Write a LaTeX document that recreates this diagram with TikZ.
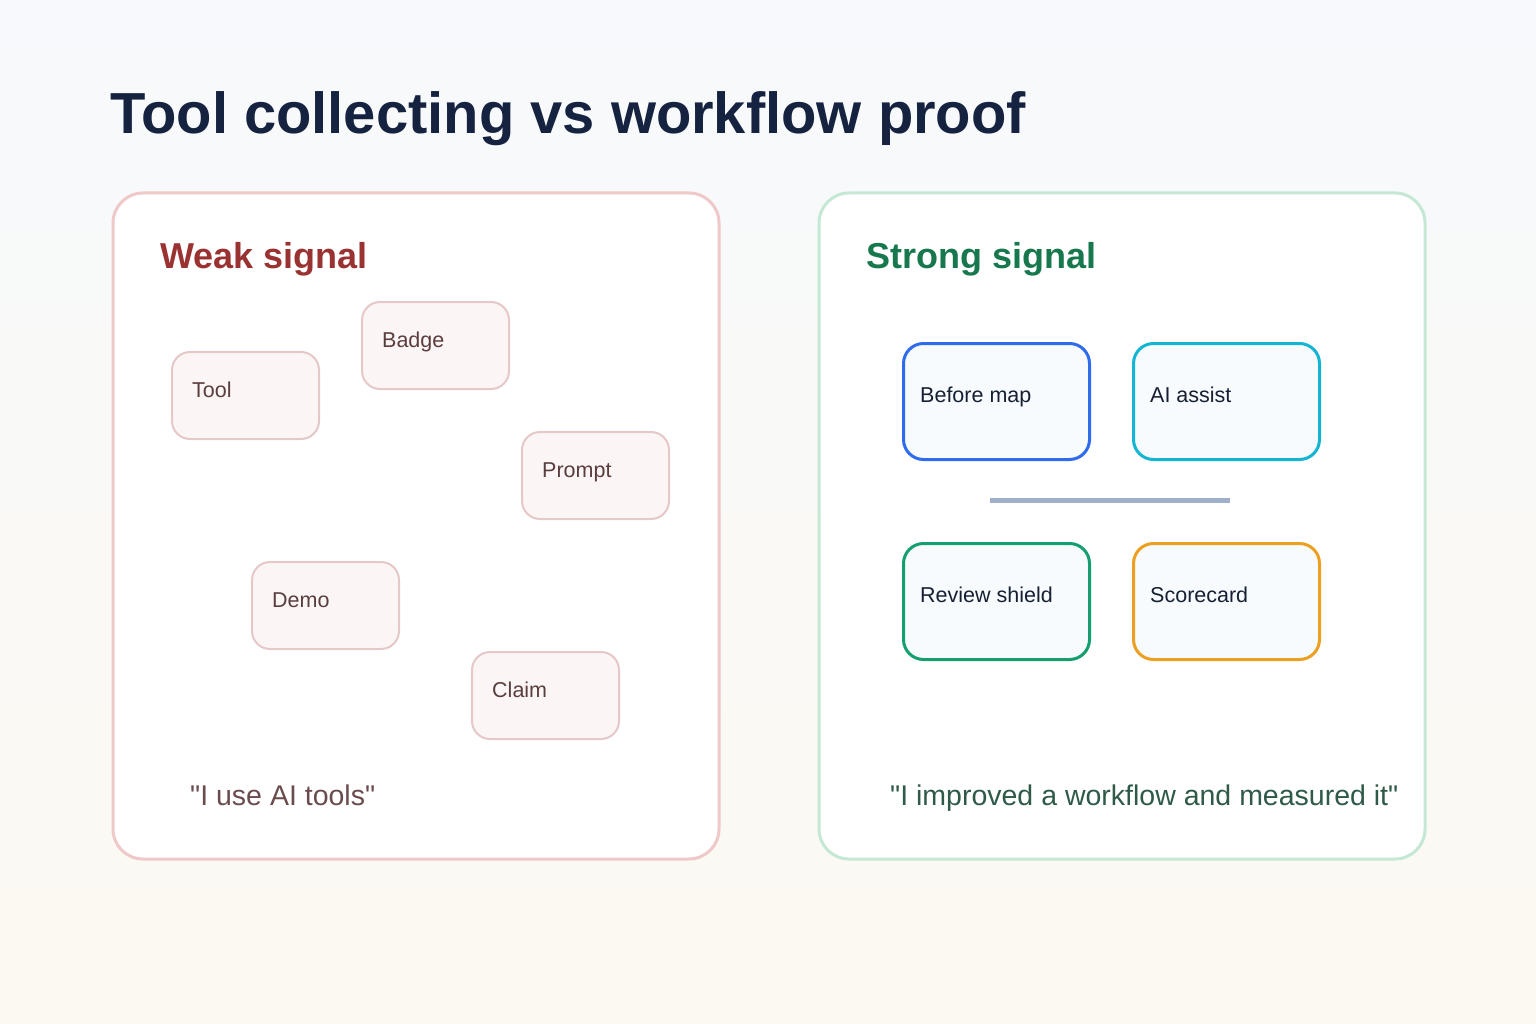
\documentclass[tikz,border=0pt]{standalone}
\usepackage{fontspec}
\setmainfont{Liberation Sans}[Ligatures=TeXOff]
\usetikzlibrary{positioning,calc}
\definecolor{bgtop}{HTML}{F7F9FC}
\definecolor{bgbot}{HTML}{FCF9F1}
\definecolor{titlec}{HTML}{152340}
\definecolor{weakc}{HTML}{9B3232}
\definecolor{strongc}{HTML}{17784E}
\definecolor{weakpanel}{HTML}{EFC8C8}
\definecolor{strongpanel}{HTML}{C4E8D4}
\definecolor{chipfill}{HTML}{FCF5F5}
\definecolor{chipdraw}{HTML}{E6C8C9}
\definecolor{chiptext}{HTML}{5A3E3E}
\definecolor{cardfill}{HTML}{F7FBFD}
\definecolor{cardtext}{HTML}{172033}
\definecolor{cblue}{HTML}{2F6BED}
\definecolor{ccyan}{HTML}{14B5D2}
\definecolor{cgreen}{HTML}{169F6E}
\definecolor{corange}{HTML}{EBA022}
\definecolor{linec}{HTML}{A0B0CC}
\definecolor{quoteweak}{HTML}{6B4C4E}
\definecolor{quotestrong}{HTML}{2F5A48}
\tikzset{
  panel/.style={draw, line width=3pt, fill=white, rounded corners=30pt, minimum width=606pt, minimum height=666pt, anchor=north west, inner sep=0pt},
  chip/.style={draw=chipdraw, line width=2pt, fill=chipfill, rounded corners=18pt, minimum width=147pt, minimum height=87pt, anchor=north west, inner sep=0pt},
  chiplabel/.style={anchor=base west, inner sep=0pt, text=chiptext, font=\fontsize{21.5}{24}\selectfont},
  card/.style={draw, line width=3pt, fill=cardfill, rounded corners=20pt, minimum width=186pt, minimum height=116pt, anchor=north west, inner sep=0pt},
  cardlabel/.style={anchor=base west, inner sep=0pt, text=cardtext, font=\fontsize{21.5}{24}\selectfont},
  heading/.style={anchor=base west, inner sep=0pt, font=\bfseries\fontsize{36}{40}\selectfont},
  quote/.style={anchor=base west, inner sep=0pt, font=\fontsize{28.5}{32}\selectfont},
}
\begin{document}
\begin{tikzpicture}[x=1pt,y=-1pt]
\shade[top color=bgtop, bottom color=bgbot] (0,0) rectangle (1536,1024);
\useasboundingbox (0,0) rectangle (1536,1024);
\node[anchor=base west, inner sep=0pt, text=titlec, font=\bfseries\fontsize{57.9}{62}\selectfont] (title) at (110,133.5) {Tool collecting vs workflow proof};
% panels
\node[panel, draw=weakpanel] (weak) at (111.5,191.5) {};
\node[panel, draw=strongpanel] (strong) at (817.5,191.5) {};
\node[heading, text=weakc] (weakh) at (160,269) {Weak signal};
\node[heading, text=strongc] (strongh) at (866,269) {Strong signal};
% weak chips
\node[chip] (tool) at (171,351) {};
\node[chiplabel] (toolt) at ($(tool.north west)+(21,46.5)$) {Tool};
\node[chip] (badge) at (361,301) {};
\node[chiplabel] (badget) at ($(badge.north west)+(21,46.5)$) {Badge};
\node[chip] (prompt) at (521,431) {};
\node[chiplabel] (promptt) at ($(prompt.north west)+(21,46.5)$) {Prompt};
\node[chip] (demo) at (251,561) {};
\node[chiplabel] (demot) at ($(demo.north west)+(21,46.5)$) {Demo};
\node[chip] (claim) at (471,651) {};
\node[chiplabel] (claimt) at ($(claim.north west)+(21,46.5)$) {Claim};
% strong cards
\node[card, draw=cblue] (before) at (902,342) {};
\node[cardlabel] (beforet) at ($(before.north west)+(18,60)$) {Before map};
\node[card, draw=ccyan] (assist) at (1132,342) {};
\node[cardlabel] (assistt) at ($(assist.north west)+(18,60)$) {AI assist};
\node[card, draw=cgreen] (review) at (902,542) {};
\node[cardlabel] (reviewt) at ($(review.north west)+(18,60)$) {Review shield};
\node[card, draw=corange] (score) at (1132,542) {};
\node[cardlabel] (scoret) at ($(score.north west)+(18,60)$) {Scorecard};
\coordinate (la) at (990,500.5);
\coordinate (lb) at (1230,500.5);
\draw[linec, line width=5pt] (la) -- (lb);
% quotes
\node[quote, text=quoteweak] (qweak) at (190,805.5) {"I use AI tools"};
\node[quote, text=quotestrong] (qstrong) at (890,805.5) {"I improved a workflow and measured it"};
\end{tikzpicture}
\end{document}
